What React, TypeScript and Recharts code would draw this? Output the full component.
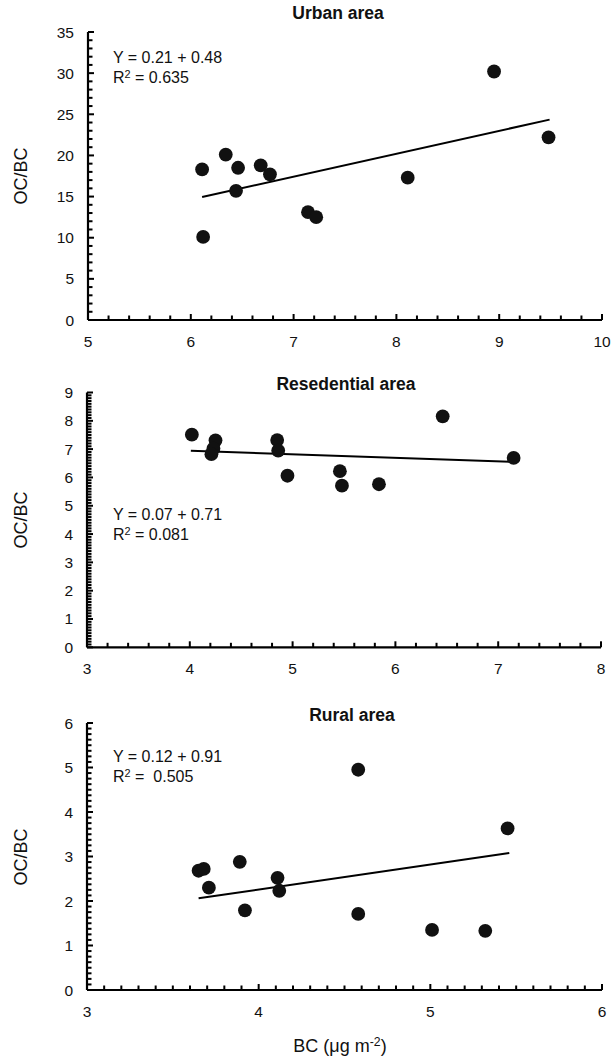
import React from 'react';
import { ScatterChart, Scatter, XAxis, YAxis, ReferenceLine } from 'recharts';

// ---------- Data ----------
const urbanBC = [6.11, 6.12, 6.34, 6.46, 6.44, 6.68, 6.77, 7.14, 7.22, 8.11, 8.95, 9.48];
const urbanOCBC = [18.3, 10.1, 20.1, 18.5, 15.7, 18.8, 17.7, 13.1, 12.5, 17.3, 30.2, 22.2];
const urbanTrendBC = [6.11, 9.49];
const urbanTrendOCBC = [14.95, 24.35];

const resBC = [4.02, 4.25, 4.23, 4.21, 4.85, 4.86, 4.95, 5.46, 5.48, 5.84, 6.46, 7.15];
const resOCBC = [7.51, 7.31, 7.02, 6.82, 7.32, 6.95, 6.06, 6.22, 5.71, 5.76, 8.16, 6.69];
const resTrendBC = [4.01, 7.15];
const resTrendOCBC = [6.94, 6.55];

const ruralBC = [3.65, 3.68, 3.71, 3.89, 3.92, 4.11, 4.12, 4.58, 4.58, 5.01, 5.32, 5.45];
const ruralOCBC = [2.68, 2.72, 2.3, 2.88, 1.79, 2.52, 2.23, 4.95, 1.71, 1.35, 1.33, 3.63];
const ruralTrendBC = [3.65, 5.46];
const ruralTrendOCBC = [2.06, 3.08];

const urbanXTicks = [5, 6, 7, 8, 9, 10];
const urbanYTicks = [0, 5, 10, 15, 20, 25, 30, 35];
const resXTicks = [3, 4, 5, 6, 7, 8];
const resYTicks = [0, 1, 2, 3, 4, 5, 6, 7, 8, 9];
const ruralXTicks = [3, 4, 5, 6];
const ruralYTicks = [0, 1, 2, 3, 4, 5, 6];

const FONT = '"Liberation Sans", Arial, Helvetica, sans-serif';
const INK = '#000';

// minor tick positions between first and last major tick
function withMinor(majors: number[], step: number): number[] {
  const out: number[] = [];
  const lo = majors[0];
  const hi = majors[majors.length - 1];
  const n = Math.round((hi - lo) / step);
  for (let i = 0; i <= n; i++) out.push(Math.round((lo + i * step) * 10000) / 10000);
  return out;
}

function isMajor(v: number, majors: number[]) {
  return majors.some((m) => Math.abs(m - v) < 1e-6);
}

function makeXTick(majors: number[]) {
  return (props: any) => {
    const { x, y, payload } = props;
    const v = payload.value;
    const mj = isMajor(v, majors);
    return (
      <g>
        <rect x={x - 1} y={y - (mj ? 6 : 4.5)} width={2} height={mj ? 6 : 4.5} fill={INK} />
        {mj && (
          <text x={x} y={y + 21} textAnchor="middle" dominantBaseline="central" fontFamily={FONT} fontSize={15.5} fill="#111">
            {v}
          </text>
        )}
      </g>
    );
  };
}

function makeYTick(majors: number[]) {
  return (props: any) => {
    const { x, y, payload } = props;
    const v = payload.value;
    const mj = isMajor(v, majors);
    return (
      <g>
        <rect x={x} y={y - 1} width={mj ? 6 : 4.5} height={2} fill={INK} />
        {mj && (
          <text x={x - 14} y={y} textAnchor="end" dominantBaseline="central" fontFamily={FONT} fontSize={15.5} fill="#111">
            {v}
          </text>
        )}
      </g>
    );
  };
}

const Dot = (p: any) => <circle cx={p.cx} cy={p.cy} r={6.9} fill="#111" />;

type PanelProps = {
  top: number;
  height: number;
  margin: { top: number; right: number; bottom: number; left: number };
  bc: number[];
  ocbc: number[];
  trendBC: number[];
  trendOCBC: number[];
  xTicks: number[];
  yTicks: number[];
  xMinor: number;
  yMinor: number;
};

function Panel(props: PanelProps) {
  const { top, height, margin, bc, ocbc, trendBC, trendOCBC, xTicks, yTicks, xMinor, yMinor } = props;
  const data = bc.map((b, i) => ({ bc: b, ocbc: ocbc[i] }));
  return (
    <div style={{ position: 'absolute', left: 0, top, width: 611, height }}>
      <ScatterChart width={611} height={height} margin={margin}>
        <XAxis
          type="number"
          dataKey="bc"
          domain={[xTicks[0], xTicks[xTicks.length - 1]]}
          ticks={withMinor(xTicks, xMinor)}
          interval={0}
          height={1}
          tickSize={0}
          tickMargin={0}
          tickLine={false}
          tick={makeXTick(xTicks)}
          axisLine={{ stroke: INK, strokeWidth: 2.2 }}
          allowDataOverflow
        />
        <YAxis
          type="number"
          dataKey="ocbc"
          domain={[yTicks[0], yTicks[yTicks.length - 1]]}
          ticks={withMinor(yTicks, yMinor)}
          interval={0}
          width={1}
          tickSize={0}
          tickMargin={0}
          tickLine={false}
          tick={makeYTick(yTicks)}
          axisLine={{ stroke: INK, strokeWidth: 2.2 }}
          allowDataOverflow
        />
        <ReferenceLine
          segment={[
            { x: trendBC[0], y: trendOCBC[0] },
            { x: trendBC[1], y: trendOCBC[1] },
          ]}
          stroke={INK}
          strokeWidth={2}
          ifOverflow="visible"
        />
        <Scatter data={data} shape={Dot} isAnimationActive={false} />
      </ScatterChart>
    </div>
  );
}

const textBase: React.CSSProperties = {
  position: 'absolute',
  fontFamily: FONT,
  color: '#111',
  lineHeight: 1,
  whiteSpace: 'pre',
};

const supStyle: React.CSSProperties = { fontSize: '0.68em', verticalAlign: '0.5em', lineHeight: 0 };

function Title({ text, cx, cy }: { text: string; cx: number; cy: number }) {
  return (
    <div style={{ ...textBase, left: cx, top: cy, transform: 'translate(-50%, -50%)', fontWeight: 'bold', fontSize: 17.5 }}>
      {text}
    </div>
  );
}

function Equation({ eq, r2, x, y1, y2 }: { eq: string; r2: string; x: number; y1: number; y2: number }) {
  return (
    <>
      <div style={{ ...textBase, left: x, top: y1, transform: 'translateY(-50%)', fontSize: 16 }}>{eq}</div>
      <div style={{ ...textBase, left: x, top: y2, transform: 'translateY(-50%)', fontSize: 16 }}>
        R<sup style={supStyle}>2</sup>
        {r2}
      </div>
    </>
  );
}

function YLabel({ cy }: { cy: number }) {
  return (
    <div
      style={{
        ...textBase,
        left: 21,
        top: cy,
        transform: 'translate(-50%, -50%) rotate(-90deg)',
        fontSize: 18,
      }}
    >
      OC/BC
    </div>
  );
}

export default function App() {
  return (
    <div style={{ position: 'absolute', left: 0, top: 0, width: 611, height: 1056, background: '#fff', overflow: 'hidden' }}>
      <Panel
        top={0}
        height={360}
        margin={{ top: 32, right: 9, bottom: 39, left: 87 }}
        bc={urbanBC}
        ocbc={urbanOCBC}
        trendBC={urbanTrendBC}
        trendOCBC={urbanTrendOCBC}
        xTicks={urbanXTicks}
        yTicks={urbanYTicks}
        xMinor={0.2}
        yMinor={1}
      />
      <Panel
        top={345}
        height={345}
        margin={{ top: 47.5, right: 10, bottom: 41.7, left: 86 }}
        bc={resBC}
        ocbc={resOCBC}
        trendBC={resTrendBC}
        trendOCBC={resTrendOCBC}
        xTicks={resXTicks}
        yTicks={resYTicks}
        xMinor={0.2}
        yMinor={0.1}
      />
      <Panel
        top={680}
        height={376}
        margin={{ top: 43, right: 9, bottom: 65, left: 86 }}
        bc={ruralBC}
        ocbc={ruralOCBC}
        trendBC={ruralTrendBC}
        trendOCBC={ruralTrendOCBC}
        xTicks={ruralXTicks}
        yTicks={ruralYTicks}
        xMinor={0.1}
        yMinor={0.125}
      />

      <Title text="Urban area" cx={338} cy={14} />
      <Title text="Resedential area" cx={346} cy={385} />
      <Title text="Rural area" cx={352} cy={716} />

      <Equation eq="Y = 0.21 + 0.48" r2=" = 0.635" x={113} y1={58} y2={78} />
      <Equation eq="Y = 0.07 + 0.71" r2=" = 0.081" x={113} y1={515} y2={535} />
      <Equation eq="Y = 0.12 + 0.91" r2=" =  0.505" x={113} y1={757} y2={777} />

      <YLabel cy={176} />
      <YLabel cy={520} />
      <YLabel cy={857} />

      <div style={{ ...textBase, left: 340, top: 1046, transform: 'translate(-50%, -50%)', fontSize: 18 }}>
        BC (μg m<sup style={supStyle}>-2</sup>)
      </div>
    </div>
  );
}
